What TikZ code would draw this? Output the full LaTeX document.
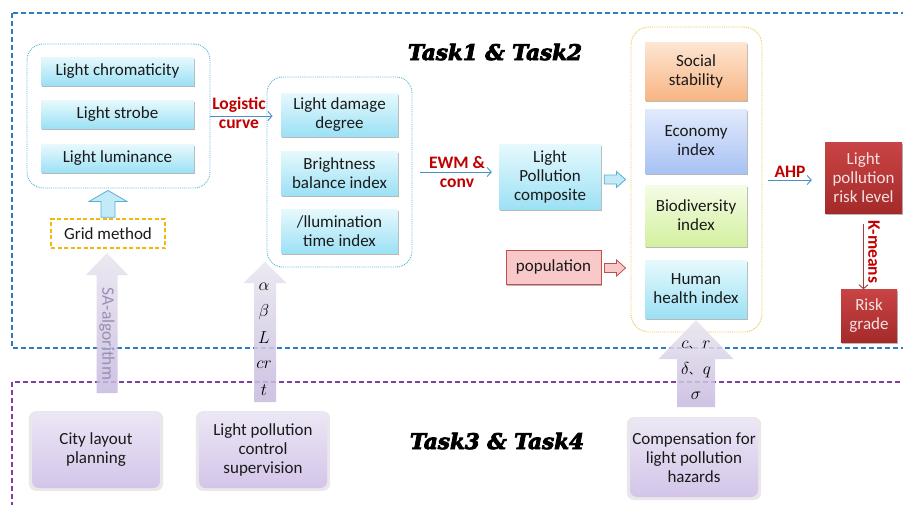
\documentclass[tikz,border=0pt]{standalone}
\usepackage{fontspec}
\setmainfont{Carlito}
\newfontfamily\titlefont[BoldItalicFeatures={FakeBold=4}]{DejaVu Serif}
\newfontfamily\cjkfont{Noto Sans CJK SC}
\usetikzlibrary{shadows,arrows.meta,calc}
\definecolor{frameblue}{HTML}{2B7CC4}
\definecolor{framepurple}{HTML}{7F3FA0}
\definecolor{cyanT}{HTML}{E6F9FD}
\definecolor{cyanB}{HTML}{9CE1F5}
\definecolor{grpblue}{HTML}{5AB6D8}
\definecolor{grpyellow}{HTML}{F0C646}
\definecolor{gridorange}{HTML}{F5B80A}
\definecolor{arrblue}{HTML}{4A8FC8}
\definecolor{labred}{HTML}{C00000}
\definecolor{orT}{HTML}{FDE6D3}
\definecolor{orB}{HTML}{F8B584}
\definecolor{blT}{HTML}{E2EAFC}
\definecolor{blB}{HTML}{A8C2F4}
\definecolor{grT}{HTML}{F5FCE6}
\definecolor{grB}{HTML}{D3F0A0}
\definecolor{redT}{HTML}{C94444}
\definecolor{redB}{HTML}{A42A2A}
\definecolor{redtxt}{HTML}{F5E1E1}
\definecolor{pinkF}{HTML}{F9C8C8}
\definecolor{pinkD}{HTML}{C0504D}
\definecolor{purT}{HTML}{ECE7F5}
\definecolor{purB}{HTML}{D3C5E9}
\definecolor{bigT}{HTML}{E8E5EF}
\definecolor{bigB}{HTML}{C7B9DF}
\definecolor{salab}{HTML}{9A8FB3}
\definecolor{blkF}{HTML}{C2EBF7}
\definecolor{blkD}{HTML}{5AB0D4}
\definecolor{txt}{HTML}{1A1A1A}
\newcommand\vblock[6]{\path[#1] let \p1=(#2),\p2=(#3) in
  (\x1-#4,\y1) -- (\x1-#4,\y2-#6) -- (\x1-#5,\y2-#6) -- (\x1,\y2) --
  (\x1+#5,\y2-#6) -- (\x1+#4,\y2-#6) -- (\x1+#4,\y1) -- cycle;}
\newcommand\hblock[6]{\path[#1] let \p1=(#2),\p2=(#3) in
  (\x1,\y1+#4) -- (\x2-#6,\y1+#4) -- (\x2-#6,\y1+#5) -- (\x2,\y1) --
  (\x2-#6,\y1-#5) -- (\x2-#6,\y1-#4) -- (\x1,\y1-#4) -- cycle;}
\tikzset{
  sz/.style 2 args={minimum width=#1pt, minimum height=#2pt},
  boxtext/.style={align=center, inner sep=1pt, font=\fontsize{17}{19}\selectfont},
  shad/.style={drop shadow={shadow xshift=1.2pt, shadow yshift=-1.8pt, fill=black, opacity=0.28}},
  cyanbox/.style={boxtext, shad, top color=cyanT, bottom color=cyanB, text=txt},
  orbox/.style={boxtext, shad, top color=orT, bottom color=orB, text=txt},
  blbox/.style={boxtext, shad, top color=blT, bottom color=blB, text=txt},
  grbox/.style={boxtext, shad, top color=grT, bottom color=grB, text=txt},
  redbox/.style={boxtext, shad, top color=redT, bottom color=redB, text=redtxt},
  pinkbox/.style={boxtext, shad, fill=pinkF, draw=pinkD, line width=0.8pt, text=txt},
  purbox/.style={boxtext, rounded corners=7pt, top color=purT, bottom color=purB, text=txt,
     drop shadow={shadow xshift=0pt, shadow yshift=-1pt, shadow scale=1.05, fill=violet!20!gray, opacity=0.16}},
  bgroup/.style={draw=grpblue, densely dotted, line width=0.9pt, rounded corners=16pt},
  ygroup/.style={draw=grpyellow, densely dotted, line width=0.9pt, rounded corners=18pt},
  gridbox/.style={boxtext, draw=gridorange, dashed, dash pattern=on 4pt off 2.5pt, line width=1.6pt, text=txt},
  thinarr/.style={draw=arrblue, line width=0.9pt, -{Straight Barb[length=4pt,width=9pt]}},
  redarr/.style={draw=pinkD!80!black, line width=0.9pt, -{Straight Barb[length=4pt,width=9pt]}},
  redlab/.style={text=labred, align=center, inner sep=0pt, font=\bfseries\fontsize{17.5}{19}\selectfont},
  cblock/.style={fill=blkF, draw=blkD, line width=0.8pt},
  pblock/.style={fill=pinkF, draw=pinkD, line width=0.8pt},
  bigarr/.style={top color=bigT, bottom color=bigB, fill opacity=0.85, draw=none},
  mathlab/.style={inner sep=0pt, font=\fontsize{16}{18}\selectfont},
  titlestyle/.style={font=\titlefont\bfseries\itshape\fontsize{21.5}{24}\selectfont},
  frameB/.style={draw=frameblue, line width=1.3pt, dash pattern=on 5pt off 3pt},
  frameP/.style={draw=framepurple, line width=1.3pt, dash pattern=on 5pt off 3pt}
}
\begin{document}
\begin{tikzpicture}[x=1pt,y=-1pt]
\useasboundingbox (0,0) rectangle (903,504);
\clip (0,0) rectangle (903,504);
\fill[white] (0,0) rectangle (903,504);
% frames
\draw[frameB] (12,13) rectangle (920,348);
\draw[frameP] (12,382) rectangle (920,530);
% titles
\node[titlestyle] (t12) at (495,52) {Task1 \& Task2};
\node[titlestyle] (t34) at (497,441) {Task3 \& Task4};
% group 1
\node[bgroup, sz={183}{144}] (g1) at (118.5,116) {};
\node[cyanbox, sz={153}{28}] (lc) at (117.5,71) {Light chromaticity};
\node[cyanbox, sz={153}{28}] (ls) at (117.5,114.5) {Light strobe};
\node[cyanbox, sz={153}{28}] (ll) at (117.5,158.5) {Light luminance};
\node[gridbox, sz={114}{29}] (grid) at (108,233.5) {Grid method};
\vblock{cblock}{[yshift=1pt]grid.north}{[yshift=-2pt]g1.south}{7pt}{19pt}{11pt}
% group 2
\node[bgroup, sz={145}{190}] (g2) at (339.5,172) {};
\node[cyanbox, sz={117}{43}] (ldd) at (339.5,114.5) {Light damage\\degree};
\node[cyanbox, sz={117}{44}] (bbi) at (339.5,173) {Brightness\\balance index};
\node[cyanbox, sz={117}{44}] (iti) at (339.5,231) {/llumination\\time index};
\draw[thinarr] (g1.east) -- ([xshift=6pt]g2.west |- g1.east);
\node[redlab] (lab1) at (239,113) {Logistic\\curve};
% composite
\node[cyanbox, sz={102}{65}] (comp) at (550,176.5) {Light\\Pollution\\composite};
\draw[thinarr] ([xshift=8pt]g2.east) -- ([xshift=-7pt]comp.west |- g2.east);
\node[redlab] (lab2) at (457,172) {EWM \&\\conv};
\node[pinkbox, sz={95}{34}] (pop) at (553.5,267) {population};
% group 3
\node[ygroup, sz={131}{305}] (g3) at (696.5,179.5) {};
\node[orbox, sz={102}{58}] (soc) at (696,71) {Social\\stability};
\node[blbox, sz={102}{64}] (eco) at (696,141) {Economy\\index};
\node[grbox, sz={102}{61}] (bio) at (696,215.5) {Biodiversity\\index};
\node[cyanbox, sz={102}{58}] (hum) at (696,289) {Human\\health index};
\hblock{cblock}{[xshift=3pt,yshift=-3pt]comp.east}{[xshift=-5pt]g3.west}{4.5pt}{8pt}{9pt}
\hblock{pblock}{[xshift=3pt,yshift=-1pt]pop.east}{[xshift=-5pt]g3.west}{4.5pt}{8pt}{9pt}
% risk
\node[redbox, sz={77}{71}] (risk) at (863.5,178) {Light\\pollution\\risk level};
\node[redbox, sz={56}{53}] (grade) at (869,316) {Risk\\grade};
\draw[thinarr] ([xshift=6pt,yshift=-2pt]g3.east |- risk.west) -- ([xshift=-13pt,yshift=-2pt]risk.west);
\node[redlab] (lab3) at (790,172) {AHP};
\draw[redarr] ([yshift=-10pt]risk.south) -- (risk.south |- grade.north);
\node[redlab, rotate=-90] (lab4) at (874,252) {K-means};
% bottom boxes
\node[purbox, sz={128}{76}] (city) at (96,450) {City layout\\planning};
\node[purbox, sz={128}{76}] (sup) at (263,450) {Light pollution\\control\\supervision};
\node[purbox, sz={128}{79}] (cmp) at (694,457.5) {Compensation for\\light pollution\\hazards};
% big arrows
\coordinate (saB) at (107,393); \coordinate (saT) at (107,253);
\vblock{bigarr}{saB}{saT}{10.5pt}{21pt}{22pt}
\node[rotate=-90, text=salab, inner sep=0pt, font=\fontsize{17.5}{19}\selectfont] (salg) at (107,334) {SA-algorithm};
\coordinate (grB) at (265,402); \coordinate (grT) at (265,262);
\vblock{bigarr}{grB}{grT}{11pt}{21.5pt}{21pt}
\node[mathlab] (ma) at (264,287) {$\alpha$};
\node[mathlab] (mb) at (264,312) {$\beta$};
\node[mathlab] (mL) at (264,338) {$L$};
\node[mathlab] (mcr) at (264,365) {$cr$};
\node[mathlab] (mt) at (264,390) {$t$};
\coordinate (cmB) at (696,407); \coordinate (cmT) at (696,320);
\vblock{bigarr}{cmB}{cmT}{19pt}{37.5pt}{39pt}
\node[mathlab] (mcr2) at (696,345) {$c${\cjkfont\fontsize{11}{12}\selectfont 、}\,$r$};
\node[mathlab] (mdq) at (696,370) {$\delta${\cjkfont\fontsize{11}{12}\selectfont 、}\,$q$};
\node[mathlab] (ms) at (696,396) {$\sigma$};
\end{tikzpicture}
\end{document}
